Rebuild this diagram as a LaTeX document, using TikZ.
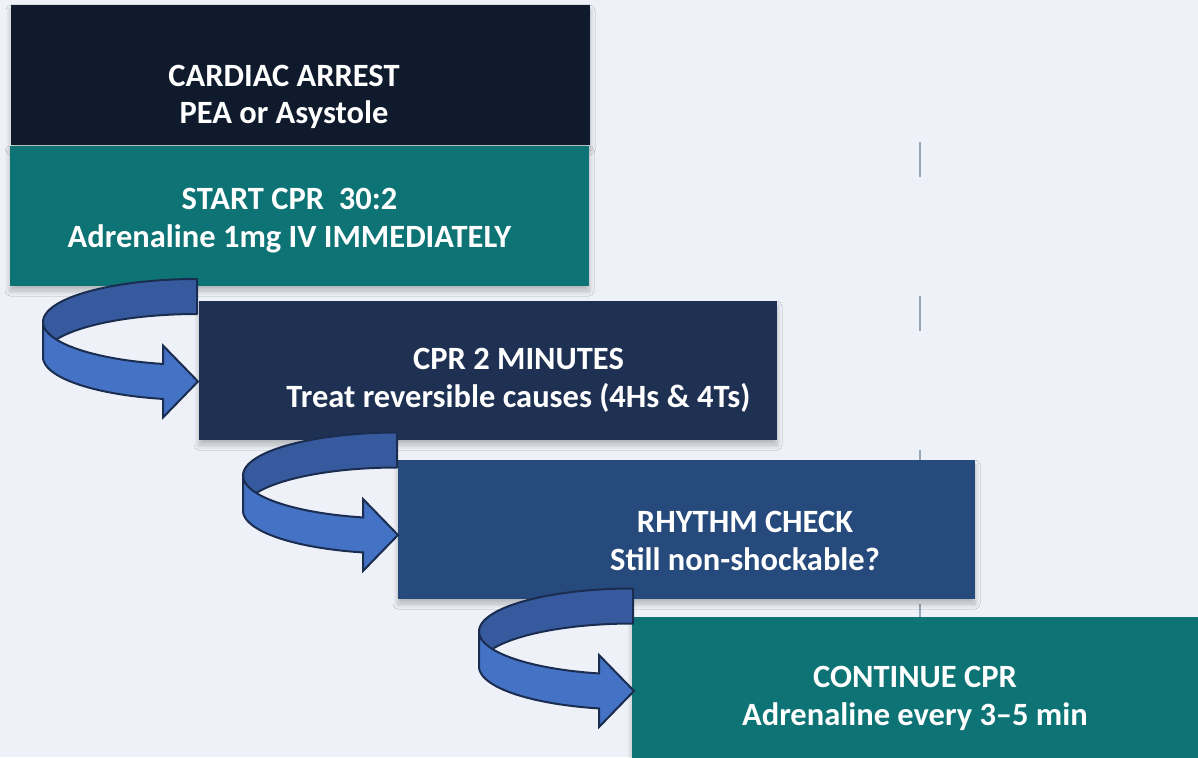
\documentclass[tikz,border=0pt]{standalone}
\usepackage{fontspec}
\setmainfont{Carlito}
\usetikzlibrary{shadows.blur}
\definecolor{bg}{HTML}{EEF2F8}
\definecolor{navyA}{HTML}{0F1B2C}
\definecolor{tealA}{HTML}{0E7374}
\definecolor{navyB}{HTML}{1F3152}
\definecolor{blueC}{HTML}{254A7B}
\definecolor{ribbonBack}{HTML}{365A9D}
\definecolor{ribbonFront}{HTML}{4472C4}
\definecolor{ribbonLine}{HTML}{1A2D50}
\definecolor{tickgray}{HTML}{97A7B7}
\tikzset{
  stepbox/.style={rectangle, inner sep=0pt, outer sep=0pt, anchor=north west,
    blur shadow={shadow xshift=0pt, shadow yshift=-5pt, shadow blur radius=5pt,
      shadow blur steps=10, shadow opacity=25}},
  steptext/.style={text=white, font=\fontsize{32.5}{37.8}\selectfont\bfseries,
    align=center, inner sep=0pt, anchor=base},
  ribbonback/.style={fill=ribbonBack, draw=ribbonLine, line width=2pt, line join=round},
  ribbonfront/.style={fill=ribbonFront, draw=ribbonLine, line width=2pt, line join=miter},
  uturn/.pic={
    \path[ribbonback]
      plot[domain=270:180, samples=50] ({-1+154*cos(\x)},{-59.5+43*sin(\x)})
      -- plot[domain=180:270, samples=50] ({-1+154*cos(\x)},{-24.5+43*sin(\x)})
      -- cycle;
    \path[ribbonfront] (-155,-59.5)
      -- plot[domain=180:102.75, samples=50] ({-1+154*cos(\x)},{-24.5+43*sin(\x)})
      -- (-35,36) -- (0,0) -- (-35,-36)
      -- plot[domain=102.75:180, samples=50] ({-1+154*cos(\x)},{-59.5+43*sin(\x)})
      -- cycle;
  }
}
\begin{document}
\begin{tikzpicture}[x=1pt, y=-1pt]
  \useasboundingbox (0,0) rectangle (1198,757);
  \fill[bg] (0,0) rectangle (1198,757);
  % dashed guide line
  \coordinate (g1) at (920,142);
  \coordinate (g2) at (920,617);
  \draw[tickgray, line width=2pt, dash pattern=on 35pt off 119pt] (g1) -- (g2);
  % boxes
  \node[stepbox, fill=navyA, minimum width=579pt, minimum height=140pt] (b1) at (11,5) {};
  \node[stepbox, fill=tealA, minimum width=579pt, minimum height=140pt] (b2) at (10,146) {};
  \node[stepbox, fill=navyB, minimum width=578pt, minimum height=139pt] (b3) at (199,301) {};
  \node[stepbox, fill=blueC, minimum width=577pt, minimum height=139pt] (b4) at (398,460) {};
  \node[stepbox, fill=tealA, minimum width=580pt, minimum height=142pt] (b5) at (632,617) {};
  % texts
  \node[steptext] (t1) at (284,124) {CARDIAC ARREST\\PEA or Asystole};
  \node[steptext] (t2) at (289.5,247.3) {START CPR\ \ 30:2\\Adrenaline 1mg IV IMMEDIATELY};
  \node[steptext] (t3) at (518.5,407) {CPR 2 MINUTES\\Treat reversible causes (4Hs \& 4Ts)};
  \node[steptext] (t4) at (745,570.7) {RHYTHM CHECK\\Still non-shockable?};
  \node[steptext] (t5) at (915,725.7) {CONTINUE CPR\\Adrenaline every 3--5 min};
  % u-turn arrows
  \coordinate (a1) at (198,381.5);
  \coordinate (a2) at (398,535);
  \coordinate (a3) at (634,691);
  \pic at (a1) {uturn};
  \pic at (a2) {uturn};
  \pic at (a3) {uturn};
\end{tikzpicture}
\end{document}
